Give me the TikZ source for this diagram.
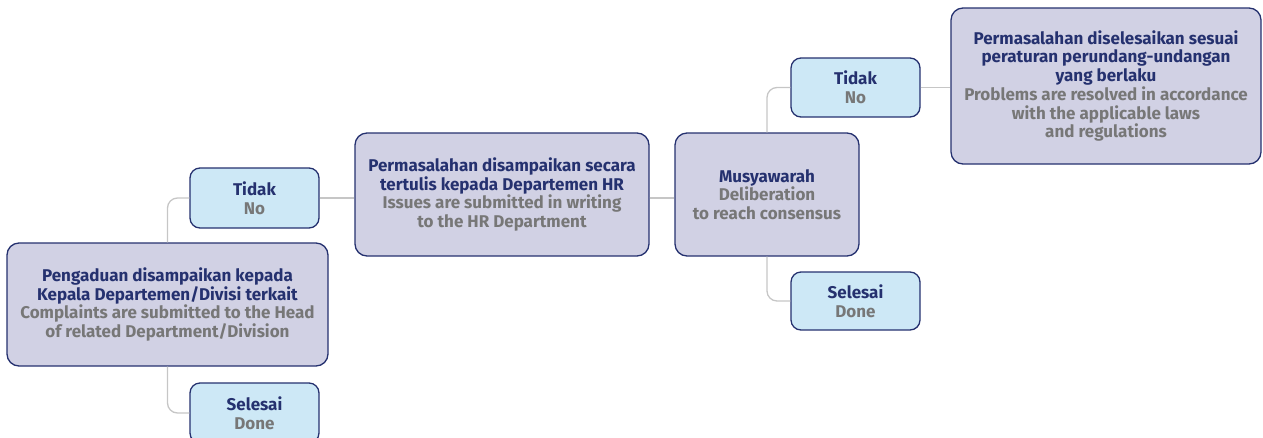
\documentclass[tikz,border=0pt]{standalone}
\usepackage{fontspec}
\setmainfont{Fira Sans}
\usetikzlibrary{calc}
\definecolor{navy}{HTML}{25316F}
\definecolor{greytxt}{HTML}{777777}
\definecolor{lav}{HTML}{D1D1E4}
\definecolor{lblue}{HTML}{CDE8F6}
\definecolor{conn}{HTML}{C6C6C6}
\tikzset{
  bigbox/.style={draw=navy, line width=1.3pt, fill=lav, rounded corners=12pt, align=center, inner sep=0pt, font=\fontsize{17}{18.7}\selectfont\bfseries},
  smallbox/.style={draw=navy, line width=1.3pt, fill=lblue, rounded corners=10pt, align=center, inner sep=0pt, minimum width=129pt, minimum height=60pt, font=\fontsize{17}{18.7}\selectfont\bfseries},
  connline/.style={draw=conn, line width=1.3pt, rounded corners=10pt},
}
\newcommand{\ttl}[1]{\textcolor{navy}{#1}}
\newcommand{\sub}[1]{\textcolor{greytxt}{#1}}
\begin{document}
\begin{tikzpicture}[x=1pt,y=-1pt]
\useasboundingbox (0,0) rectangle (1263,437);
\clip (0,0) rectangle (1263,437);
\node[bigbox, minimum width=321pt, minimum height=123pt] (A) at (167.5,304.5)
  {\ttl{Pengaduan disampaikan kepada}\\\ttl{Kepala Departemen/Divisi terkait}\\\sub{Complaints are submitted to the Head}\\\sub{of related Department/Division}};
\node[smallbox] (t1) at (254.5,198) {\ttl{Tidak}\\\sub{No}};
\node[smallbox] (s1) at (254.5,413) {\ttl{Selesai}\\\sub{Done}};
\node[bigbox, minimum width=294pt, minimum height=123pt] (B) at (502,194.5)
  {\ttl{Permasalahan disampaikan secara}\\\ttl{tertulis kepada Departemen HR}\\\sub{Issues are submitted in writing}\\\sub{to the HR Department}};
\node[bigbox, minimum width=184pt, minimum height=123pt] (C) at (767,194.5)
  {\ttl{Musyawarah}\\\sub{Deliberation}\\\sub{to reach consensus}};
\node[smallbox, minimum height=59pt] (t2) at (855.5,87.5) {\ttl{Tidak}\\\sub{No}};
\node[smallbox, minimum height=58pt] (s2) at (855.5,301) {\ttl{Selesai}\\\sub{Done}};
\node[bigbox, minimum width=310pt, minimum height=156pt] (D) at (1106,86)
  {\ttl{Permasalahan diselesaikan sesuai}\\\ttl{peraturan perundang-undangan}\\\ttl{yang berlaku}\\\sub{Problems are resolved in accordance}\\\sub{with the applicable laws}\\\sub{and regulations}};
\draw[connline] (A.north) |- (t1.west);
\draw[connline] (A.south) |- (s1.west);
\draw[connline] (t1.east) -- (t1.east -| B.west);
\draw[connline] (t1.east -| B.east) -- (t1.east -| C.west);
\draw[connline] (C.north) |- (t2.west);
\draw[connline] (C.south) |- (s2.west);
\draw[connline] (t2.east) -- (t2.east -| D.west);
\end{tikzpicture}
\end{document}
